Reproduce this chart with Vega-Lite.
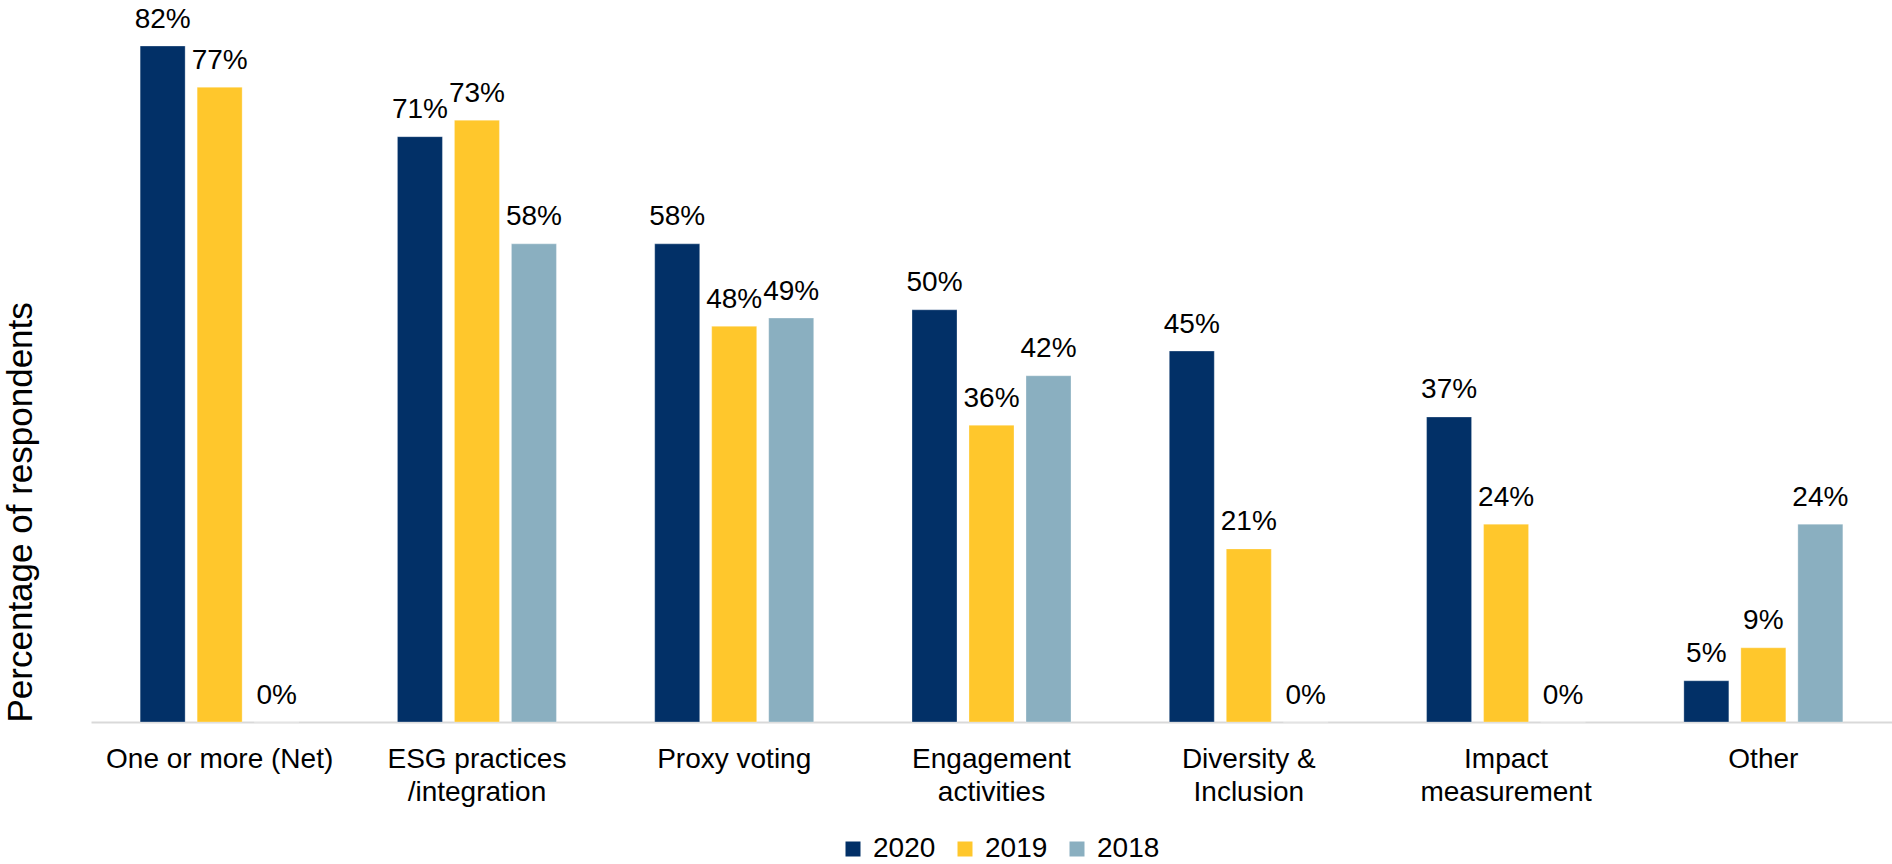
{
  "$schema": "https://vega.github.io/schema/vega-lite/v6.json",
  "autosize": {"type": "none"},
  "padding": {"left": 91, "top": 0, "right": 0, "bottom": 142},
  "width": 1801,
  "height": 722,
  "background": "white",
  "config": {
    "view": {"stroke": null},
    "font": "Liberation Sans"
  },
  "data": {
    "values": [
      {"category": "One or more (Net)", "year": "2020", "value": 0.82},
      {"category": "One or more (Net)", "year": "2019", "value": 0.77},
      {"category": "One or more (Net)", "year": "2018", "value": 0.0},
      {"category": "ESG practices|/integration", "year": "2020", "value": 0.71},
      {"category": "ESG practices|/integration", "year": "2019", "value": 0.73},
      {"category": "ESG practices|/integration", "year": "2018", "value": 0.58},
      {"category": "Proxy voting", "year": "2020", "value": 0.58},
      {"category": "Proxy voting", "year": "2019", "value": 0.48},
      {"category": "Proxy voting", "year": "2018", "value": 0.49},
      {"category": "Engagement|activities", "year": "2020", "value": 0.50},
      {"category": "Engagement|activities", "year": "2019", "value": 0.36},
      {"category": "Engagement|activities", "year": "2018", "value": 0.42},
      {"category": "Diversity &|Inclusion", "year": "2020", "value": 0.45},
      {"category": "Diversity &|Inclusion", "year": "2019", "value": 0.21},
      {"category": "Diversity &|Inclusion", "year": "2018", "value": 0.0},
      {"category": "Impact|measurement", "year": "2020", "value": 0.37},
      {"category": "Impact|measurement", "year": "2019", "value": 0.24},
      {"category": "Impact|measurement", "year": "2018", "value": 0.0},
      {"category": "Other", "year": "2020", "value": 0.05},
      {"category": "Other", "year": "2019", "value": 0.09},
      {"category": "Other", "year": "2018", "value": 0.24}
    ]
  },
  "encoding": {
    "x": {
      "field": "category",
      "type": "nominal",
      "sort": null,
      "scale": {"paddingInner": 0.382, "paddingOuter": 0.191},
      "axis": {
        "title": null,
        "labelAngle": 0,
        "labelExpr": "split(datum.label, '|')",
        "labelFontSize": 28,
        "labelColor": "#000000",
        "labelLineHeight": 33,
        "labelPadding": 23,
        "labelBaseline": "top",
        "labelLimit": 0,
        "labelOverlap": false,
        "ticks": false,
        "domainColor": "#d9d9d9",
        "domainWidth": 2,
        "grid": false
      }
    },
    "xOffset": {
      "field": "year",
      "type": "nominal",
      "sort": ["2020", "2019", "2018"],
      "scale": {"paddingInner": 0.2105, "paddingOuter": 0}
    },
    "y": {
      "field": "value",
      "type": "quantitative",
      "scale": {"domain": [0, 0.8758], "nice": false, "zero": true},
      "axis": {
        "title": "Percentage of respondents",
        "titleFontSize": 35,
        "titleFontWeight": "normal",
        "titleColor": "#000000",
        "titleAnchor": "start",
        "titleBaseline": "alphabetic",
        "titlePadding": 60,
        "labels": false,
        "ticks": false,
        "domain": false,
        "grid": false
      }
    }
  },
  "layer": [
    {
      "mark": {"type": "bar", "stroke": "#ffffff", "strokeWidth": 0.5, "strokeOpacity": 0.6},
      "encoding": {
        "color": {
          "field": "year",
          "type": "nominal",
          "sort": ["2020", "2019", "2018"],
          "scale": {"domain": ["2020", "2019", "2018"], "range": ["#023067", "#FFC72C", "#8AAFC0"]},
          "legend": {
            "title": null,
            "orient": "none",
            "legendX": 748,
            "legendY": 835,
            "direction": "horizontal",
            "symbolType": "square",
            "symbolSize": 225,
            "symbolStrokeWidth": 0,
            "labelFontSize": 28,
            "labelColor": "#000000",
            "labelOffset": 6,
            "columnPadding": 15,
            "symbolOffset": 0
          }
        }
      }
    },
    {
      "mark": {"type": "text", "fontSize": 28, "color": "#000000", "baseline": "alphabetic", "dy": -18.5},
      "encoding": {
        "text": {"field": "value", "type": "quantitative", "format": ".0%"}
      }
    }
  ]
}
